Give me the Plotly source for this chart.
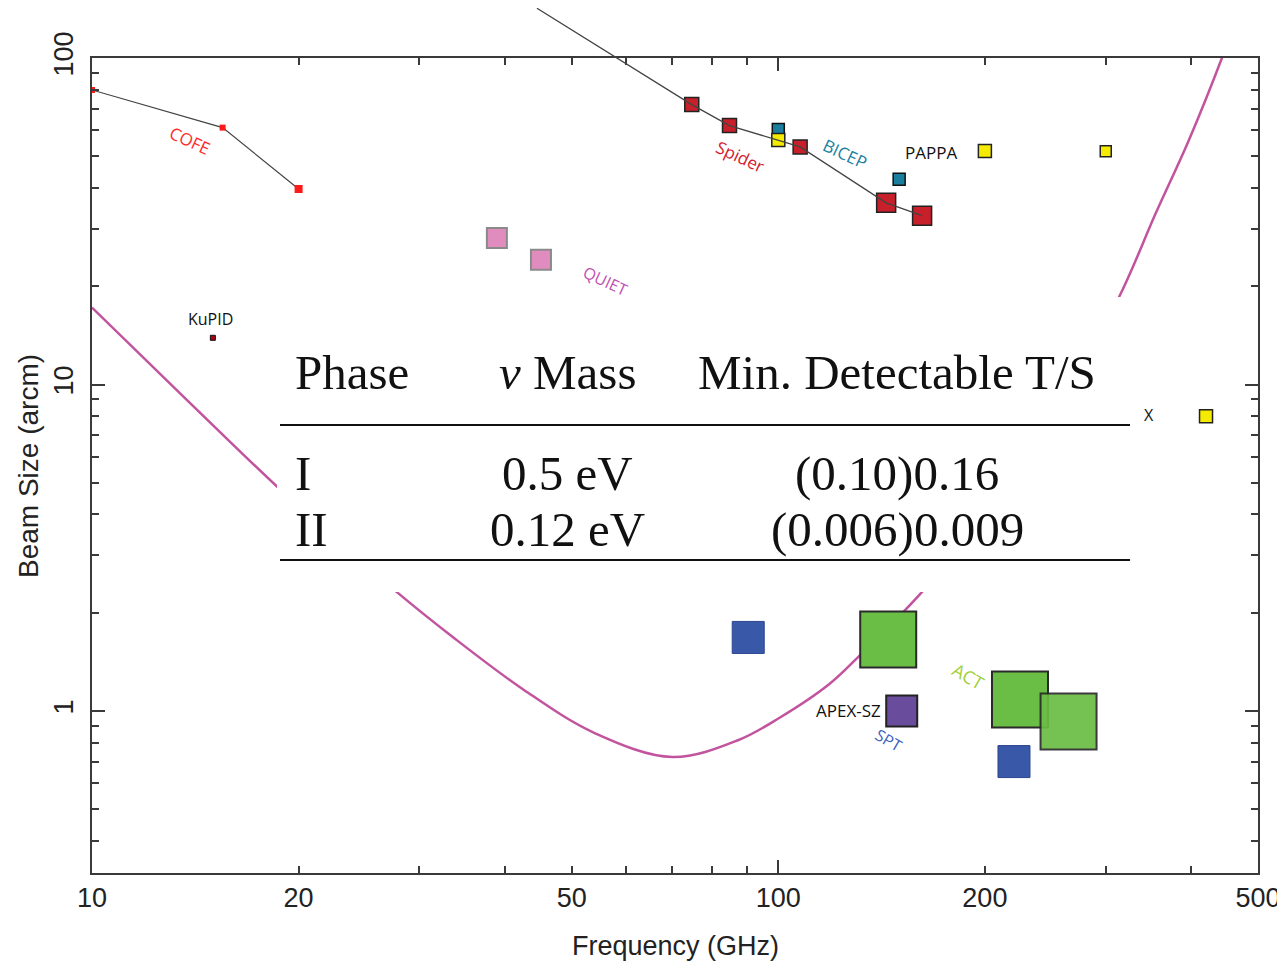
import math
import plotly.graph_objects as go

# ---------------- data ----------------
cofe_f = [10, 15.5, 20]
cofe_b = [79.8, 61.2, 39.7]

spider_f = [74.8, 84.9, 107.6, 143.6, 162.0]
spider_b = [72.0, 62.1, 53.4, 36.0, 32.9]
spider_line_f = [44.5] + spider_f
spider_line_b = [142.0] + spider_b

bicep_f = [100, 150]
bicep_b = [60.4, 42.5]

pappa_f = [100, 200, 300, 420]
pappa_b = [56.1, 51.9, 51.8, 8.0]

quiet_f = [38.9, 45.1]
quiet_b = [28.1, 24.1]

kupid_f = [15]
kupid_b = [13.9]

spt_f = [90.4, 220.5]
spt_b = [1.68, 0.70]

act_f = [144.6, 225.0, 264.8]
act_b = [1.656, 1.084, 0.929]

apex_f = [151.3]
apex_b = [1.0]

curve_f = [10, 13.66, 18.7, 23, 27.9, 33.4, 42.6, 54.0, 70.1, 87.5, 100.3,
           118.7, 131.6, 161.5, 200, 250, 313.6, 354.9, 396.6, 443, 480]
curve_b = [17.2, 9.09, 4.82, 3.28, 2.30, 1.697, 1.160, 0.856, 0.723, 0.815, 0.952,
           1.21, 1.484, 2.30, 4.0, 7.8, 18.5, 33.5, 56.1, 100, 160]

x_tick_vals = [10, 20, 50, 100, 200, 500]
x_tick_text = ["10", "20", "50", "100", "200", "500"]
x_minor_vals = [30, 40, 60, 70, 80, 90, 300, 400]
y_tick_vals = [1, 10, 100]
y_tick_text = ["1", "10", "100"]
y_minor_vals = [0.4, 0.5, 0.6, 0.7, 0.8, 0.9, 2, 3, 4, 5, 6, 7, 8, 9,
                20, 30, 40, 50, 60, 70, 80, 90]

table_header = ["Phase", "<i>ν</i> Mass", "Min. Detectable T/S"]
table_rows = [["I", "0.5 eV", "(0.10)0.16"],
              ["II", "0.12 eV", "(0.006)0.009"]]

# ---------------- layout geometry ----------------
OFF = 8                   # page body margin
W, H = 1285 - OFF, 963 - OFF
ML, MR, MT, MB = 92 - OFF, 27, 0, 90
PW = W - ML - MR          # 1166
PH = H - MT - MB          # 865
FRAME_TOP = 58 - OFF      # frame top in figure pixels
X_RANGE = [1.0, math.log10(500)]
Y_RANGE = [-0.4962, 2.0]
px_per_dec = (PH - FRAME_TOP) / (Y_RANGE[1] - Y_RANGE[0])
Y2_RANGE = [Y_RANGE[0], Y_RANGE[0] + PH / px_per_dec]
Y_DOMAIN = [0, (PH - FRAME_TOP) / PH]


def pxx(px):
    """page pixel x -> paper x"""
    return (px - OFF - ML) / PW


def pxy(py):
    """page pixel y -> paper y"""
    return (PH - (py - OFF - MT)) / PH


L = math.log10
FRAME = "#3a3a3a"
AXFONT = "Liberation Sans, Arial, sans-serif"
LBLFONT = "Open Sans, DejaVu Sans, sans-serif"
SERIF = "Liberation Serif, Times New Roman, serif"

fig = go.Figure()

# beam curve (magenta)
fig.add_trace(go.Scatter(x=curve_f, y=curve_b, mode="lines",
                         line=dict(color="#c2549f", width=2.5, shape="spline", smoothing=1.0),
                         hoverinfo="skip", showlegend=False))

# COFE
fig.add_trace(go.Scatter(x=cofe_f, y=cofe_b, mode="lines+markers",
                         line=dict(color="#444444", width=1.2),
                         marker=dict(symbol="square", size=[6, 6, 8], color="#ff1a1a",
                                     opacity=1, line=dict(width=0)),
                         hoverinfo="skip", showlegend=False))

# QUIET
fig.add_trace(go.Scatter(x=quiet_f, y=quiet_b, mode="markers",
                         marker=dict(symbol="square", size=20, color="#e08cbf", opacity=1,
                                     line=dict(color="#8a8a8a", width=2)),
                         hoverinfo="skip", showlegend=False))

# KuPID
fig.add_trace(go.Scatter(x=kupid_f, y=kupid_b, mode="markers",
                         marker=dict(symbol="square", size=5, color="#b00010", opacity=1,
                                     line=dict(color="#111111", width=1)),
                         hoverinfo="skip", showlegend=False))

# BICEP
fig.add_trace(go.Scatter(x=bicep_f, y=bicep_b, mode="markers",
                         marker=dict(symbol="square", size=12, color="#1a7f9f", opacity=1,
                                     line=dict(color="#111111", width=1.5)),
                         hoverinfo="skip", showlegend=False))

# PAPPA etc (yellow)
fig.add_trace(go.Scatter(x=pappa_f, y=pappa_b, mode="markers",
                         marker=dict(symbol="square", size=[13, 13, 11, 13], color="#f5eb00",
                                     opacity=1, line=dict(color="#222222", width=1.5)),
                         hoverinfo="skip", showlegend=False))

# Spider markers
fig.add_trace(go.Scatter(x=spider_f, y=spider_b, mode="markers",
                         marker=dict(symbol="square", size=[14, 14, 14, 19, 19], color="#c8202a",
                                     opacity=1, line=dict(color="#222222", width=1.5)),
                         hoverinfo="skip", showlegend=False))

# SPT
fig.add_trace(go.Scatter(x=spt_f, y=spt_b, mode="markers",
                         marker=dict(symbol="square", size=32, color="#3a58a8", opacity=1,
                                     line=dict(color="#2c4590", width=1)),
                         hoverinfo="skip", showlegend=False))

# APEX-SZ
fig.add_trace(go.Scatter(x=apex_f, y=apex_b, mode="markers",
                         marker=dict(symbol="square", size=31, color="#6a4c9c", opacity=1,
                                     line=dict(color="#222222", width=2)),
                         hoverinfo="skip", showlegend=False))

# ACT
fig.add_trace(go.Scatter(x=act_f, y=act_b, mode="markers",
                         marker=dict(symbol="square", size=56, color="#6abd45",
                                     opacity=[1, 1, 0.92],
                                     line=dict(color="#2a2a2a", width=2)),
                         hoverinfo="skip", showlegend=False))

# dummy trace for the long decade tick on the x axis
fig.add_trace(go.Scatter(x=[100], y=[1], xaxis="x3", yaxis="y", mode="markers",
                         marker=dict(opacity=0), hoverinfo="skip", showlegend=False))

# Spider line extends above the frame -> taller invisible axis
fig.add_trace(go.Scatter(x=spider_line_f, y=spider_line_b, xaxis="x", yaxis="y2",
                         mode="lines", line=dict(color="#444444", width=1.3),
                         hoverinfo="skip", showlegend=False))

# ---------------- annotations ----------------
ann = []


def lab(text, f, b, color, size=17, angle=0, xanchor="center", font=LBLFONT):
    ann.append(dict(text=text, x=L(f), y=L(b), xref="x", yref="y", showarrow=False,
                    textangle=angle, xanchor=xanchor, yanchor="middle",
                    font=dict(family=font, size=size, color=color)))


lab("COFE", 13.9, 56, "#ff2a2a", 17, 25)
lab("Spider", 88, 50, "#d42030", 17, 25)
lab("BICEP", 125, 51, "#1a7f9f", 17, 25)
lab("PAPPA", 167, 51.5, "#111111", 17)
lab("QUIET", 56, 20.7, "#c050b0", 16, 25)
lab("KuPID", 14.9, 15.9, "#111111", 16)
lab("X", 347, 8.07, "#111111", 16)
lab("APEX-SZ", 142.2, 1.0, "#111111", 17, 0, "right")
lab("SPT", 144.6, 0.815, "#4060c0", 16, 30)
lab("ACT", 189, 1.28, "#9fd03a", 18, 30)

# axis titles
ann.append(dict(text="Frequency (GHz)", x=pxx(675), y=pxy(946), xref="paper", yref="paper",
                showarrow=False, xanchor="center", yanchor="middle",
                font=dict(family=AXFONT, size=27, color="#222222")))
ann.append(dict(text="Beam Size (arcm)", x=pxx(28), y=pxy(466), xref="paper", yref="paper",
                showarrow=False, xanchor="center", yanchor="middle", textangle=-90,
                font=dict(family=AXFONT, size=28, color="#222222")))

# table overlay
col_x = [293, 567, 897]
row_y = [371, 472, 528]
for r, row in enumerate([table_header] + table_rows):
    for c, txt in enumerate(row):
        ann.append(dict(text=txt, x=pxx(col_x[c]), y=pxy(row_y[r] + 1), xref="paper", yref="paper",
                        showarrow=False, xanchor="left" if c == 0 else "center",
                        yanchor="middle", font=dict(family=SERIF, size=49, color="#111111")))

shapes = [
    dict(type="rect", xref="paper", yref="paper", x0=pxx(277), x1=pxx(1132),
         y0=pxy(592), y1=pxy(297), fillcolor="white", line=dict(width=0), layer="above"),
    dict(type="line", xref="paper", yref="paper", x0=pxx(280), x1=pxx(1130),
         y0=pxy(425), y1=pxy(425), line=dict(color="#111111", width=2), layer="above"),
    dict(type="line", xref="paper", yref="paper", x0=pxx(280), x1=pxx(1130),
         y0=pxy(560), y1=pxy(560), line=dict(color="#111111", width=2), layer="above"),
]

fig.update_layout(
    width=W, height=H,
    margin=dict(l=ML, r=MR, t=MT, b=MB, pad=0, autoexpand=False),
    paper_bgcolor="white", plot_bgcolor="rgba(0,0,0,0)",
    showlegend=False,
    annotations=ann, shapes=shapes,
    xaxis=dict(type="log", range=X_RANGE, anchor="y", showgrid=False, zeroline=False,
               automargin=False,
               showline=True, linecolor=FRAME, linewidth=2, mirror="ticks",
               ticks="inside", ticklen=7, tickwidth=1.5, tickcolor=FRAME,
               tickmode="array", tickvals=x_tick_vals, ticktext=x_tick_text,
               ticklabelstandoff=0,
               tickfont=dict(family=AXFONT, size=27, color="#222222"),
               minor=dict(tickmode="array", tickvals=x_minor_vals, ticks="inside",
                          ticklen=7, tickwidth=1.5, tickcolor=FRAME, showgrid=False)),
    xaxis3=dict(type="log", range=X_RANGE, overlaying="x", anchor="y", side="bottom",
                automargin=False,
                showgrid=False, zeroline=False, showline=False, mirror="ticks",
                ticks="inside", ticklen=13, tickwidth=1.5, tickcolor=FRAME,
                tickmode="array", tickvals=[100], showticklabels=False),
    yaxis=dict(type="log", range=Y_RANGE, domain=Y_DOMAIN, anchor="x", showgrid=False,
               automargin=False,
               zeroline=False, showline=True, linecolor=FRAME, linewidth=2, mirror="ticks",
               ticks="inside", ticklen=13, tickwidth=1.5, tickcolor=FRAME,
               tickmode="array", tickvals=y_tick_vals, ticktext=y_tick_text,
               tickangle=-90, ticklabelstandoff=6,
               tickfont=dict(family=AXFONT, size=27, color="#222222"),
               minor=dict(tickmode="array", tickvals=y_minor_vals, ticks="inside",
                          ticklen=7, tickwidth=1.5, tickcolor=FRAME, showgrid=False)),
    yaxis2=dict(type="log", range=Y2_RANGE, domain=[0, 1], anchor="x", visible=False,
                automargin=False, showgrid=False, zeroline=False),
)

fig.write_html("out.html")
